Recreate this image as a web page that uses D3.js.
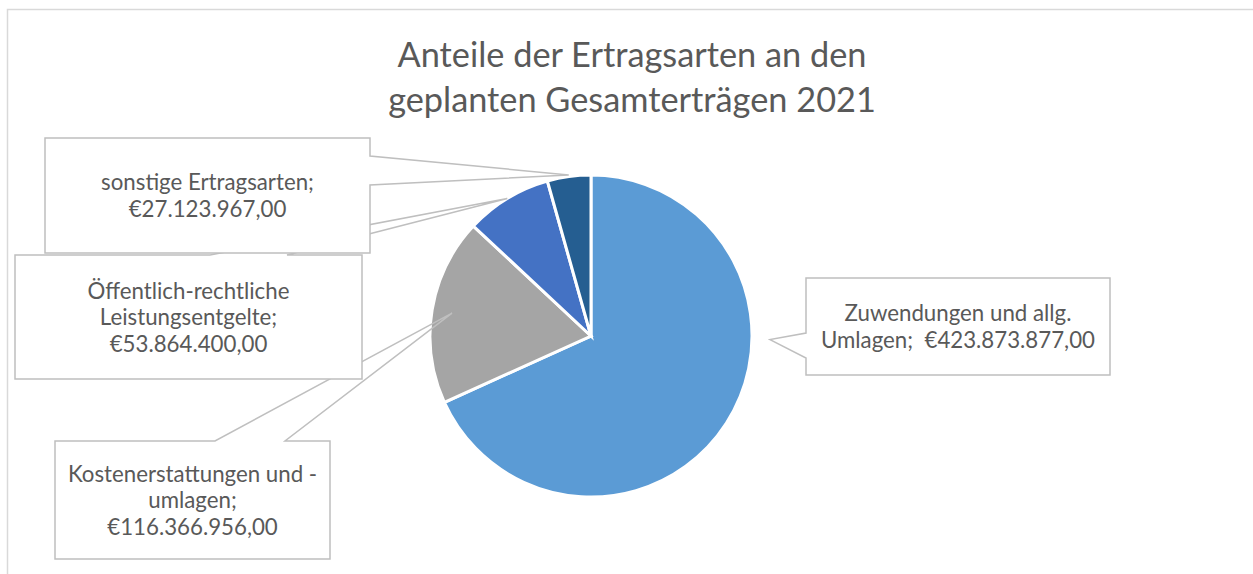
<!DOCTYPE html>
<html>
<head>
<meta charset="utf-8">
<script src="https://cdn.jsdelivr.net/npm/d3@7"></script>
<style>
  body { margin: 0; background: #fff; }
  svg { display: block; }
  .chartTitle, .labelText { font-family: Lato, "Open Sans", sans-serif; fill: #595959; }
  .labelText { white-space: pre; }
</style>
</head>
<body>
<div id="chart"></div>
<script>
// data
var categories = [
  "Zuwendungen und allg. Umlagen",
  "Kostenerstattungen und -umlagen",
  "Öffentlich-rechtliche Leistungsentgelte",
  "sonstige Ertragsarten"
];
var values = [423873877, 116366956, 53864400, 27123967];
var colors = ["#5B9BD5", "#A5A5A5", "#4472C4", "#255E91"];
// how the label names are broken into lines (last line gets the value)
var nameLines = [
  ["Zuwendungen und allg.", "Umlagen;  "],
  ["Kostenerstattungen und -", "umlagen;"],
  ["Öffentlich-rechtliche", "Leistungsentgelte;"],
  ["sonstige Ertragsarten;"]
];
var valueOnSameLine = [true, false, false, false];
var titleLines = ["Anteile der Ertragsarten an den", "geplanten Gesamterträgen 2021"];

var svgWidth = 1253;
var svgHeight = 574;

var svg = d3.select("#chart")
  .append("svg")
  .attr("width", svgWidth)
  .attr("height", svgHeight);

// chart area border
svg.append("rect")
  .attr("x", 7.5)
  .attr("y", 9.5)
  .attr("width", 1400)
  .attr("height", 800)
  .attr("fill", "#fff")
  .attr("stroke", "#D9D9D9")
  .attr("stroke-width", 1.5);

var de = d3.formatLocale({decimal: ",", thousands: ".", grouping: [3], currency: ["€", ""]});
var euro = de.format("$,.2f");

// title
var title = svg.append("text")
  .attr("class", "chartTitle")
  .attr("text-anchor", "middle");
title.selectAll("tspan")
  .data(titleLines)
  .enter()
  .append("tspan")
  .attr("x", 632)
  .attr("y", (d, i) => 67 + i * 45)
  .text(d => d);
// fit the font to the reference width of the first title line
title.style("font-size", "100px");
var tw = title.select("tspan").node().getComputedTextLength();
title.style("font-size", (100 * 469 / tw) + "px");

// pie
var cx = 591, cy = 336, radius = 161;
var pie = d3.pie().sort(null).value(d => d);
var arcs = pie(values);
var arc = d3.arc().innerRadius(0).outerRadius(radius);

var pieGroup = svg.append("g")
  .attr("transform", `translate(${cx}, ${cy})`);

pieGroup.selectAll("path")
  .data(arcs)
  .enter()
  .append("path")
  .attr("d", arc)
  .attr("fill", (d, i) => colors[i])
  .attr("stroke", "#fff")
  .attr("stroke-width", 3);

// callout layout: box + where the pointer attaches on the box, and pointer tip
var callouts = [
  {i: 1, box: [55, 441, 330, 559], side: "top", base: [215, 285], angle: null, rf: 0.875},
  {i: 2, box: [15, 255, 362, 379], side: "top", base: [210, 287], angle: null, rf: 1.0},
  {i: 3, box: [45, 138, 370, 253], side: "right", base: [156, 185], angle: null, rf: 1.01},
  {i: 0, box: [806, 278, 1110, 375], side: "left", base: [333, 358], angle: Math.PI / 2 + 0.02, rf: 1.112}
];

function tipPoint(c) {
  var a = arcs[c.i];
  var ang = c.angle != null ? c.angle : (a.startAngle + a.endAngle) / 2;
  var r = radius * c.rf;
  return [cx + r * Math.sin(ang), cy - r * Math.cos(ang)];
}

function outline(c, tip) {
  var b = c.box, x0 = b[0], y0 = b[1], x1 = b[2], y1 = b[3];
  var p = d3.path();
  if (c.side === "top") {
    p.moveTo(x0, y0);
    p.lineTo(c.base[0], y0);
    p.lineTo(tip[0], tip[1]);
    p.lineTo(c.base[1], y0);
    p.lineTo(x1, y0);
    p.lineTo(x1, y1);
    p.lineTo(x0, y1);
    p.closePath();
  } else if (c.side === "right") {
    p.moveTo(x0, y0);
    p.lineTo(x1, y0);
    p.lineTo(x1, c.base[0]);
    p.lineTo(tip[0], tip[1]);
    p.lineTo(x1, c.base[1]);
    p.lineTo(x1, y1);
    p.lineTo(x0, y1);
    p.closePath();
  } else {
    p.moveTo(x0, y0);
    p.lineTo(x1, y0);
    p.lineTo(x1, y1);
    p.lineTo(x0, y1);
    p.lineTo(x0, c.base[1]);
    p.lineTo(tip[0], tip[1]);
    p.lineTo(x0, c.base[0]);
    p.closePath();
  }
  return p.toString();
}

function labelLines(i) {
  var lines = nameLines[i].slice();
  if (valueOnSameLine[i]) {
    lines[lines.length - 1] = lines[lines.length - 1] + euro(values[i]);
  } else {
    lines.push(euro(values[i]));
  }
  return lines;
}

var labelGroup = svg.append("g");

callouts.forEach(function(c) {
  var g = labelGroup.append("g");
  var b = c.box;
  g.append("rect")
    .attr("x", b[0])
    .attr("y", b[1])
    .attr("width", b[2] - b[0])
    .attr("height", b[3] - b[1])
    .attr("fill", "#fff");
  g.append("path")
    .attr("d", outline(c, tipPoint(c)))
    .attr("fill", "none")
    .attr("stroke", "#BFBFBF")
    .attr("stroke-width", 1.5)
    .attr("stroke-linejoin", "miter");

  var lines = labelLines(c.i);
  var lh = 26.5;
  var midY = (b[1] + b[3]) / 2;
  var firstBase = midY - (lines.length - 1) * lh / 2 + 8;
  g.append("text")
    .attr("class", "labelText")
    .attr("text-anchor", "middle")
    .selectAll("tspan")
    .data(lines)
    .enter()
    .append("tspan")
    .attr("x", (b[0] + b[2]) / 2)
    .attr("y", (d, k) => firstBase + k * lh)
    .text(d => d);
});

// fit label font to the reference width of "Zuwendungen und allg."
var labels = labelGroup.selectAll(".labelText");
labels.style("font-size", "100px");
var probe = labelGroup.selectAll("tspan").filter(d => d === "Zuwendungen und allg.").node();
var lw = probe.getComputedTextLength();
labels.style("font-size", (100 * 227 / lw) + "px");
</script>
</body>
</html>
